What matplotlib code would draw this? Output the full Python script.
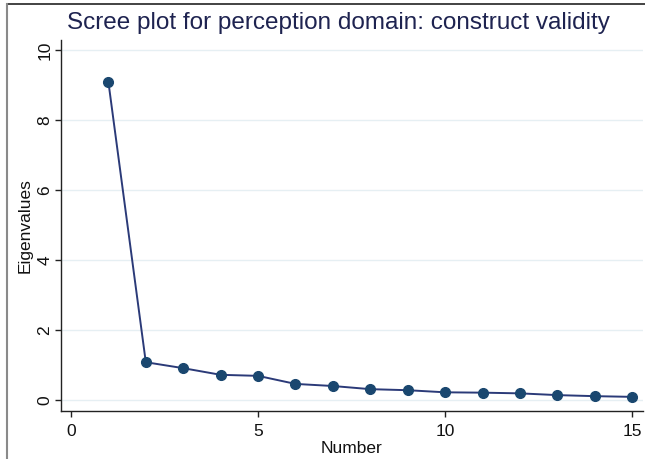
import matplotlib
matplotlib.use("Agg")
import matplotlib.pyplot as plt
from matplotlib.lines import Line2D

components = list(range(1, 16))
eigenvalues = [9.09, 1.08, 0.91, 0.72, 0.69, 0.46, 0.40, 0.31, 0.28, 0.22, 0.21, 0.19, 0.14, 0.11, 0.09]
x_ticks = [0, 5, 10, 15]
y_ticks = [0, 2, 4, 6, 8, 10]

plt.rcParams['font.family'] = ['Liberation Sans', 'DejaVu Sans']

fig = plt.figure(figsize=(6.45, 4.59), dpi=100)
fig.patch.set_facecolor('white')
ax = fig.add_axes([60.5/645, 1-411/459, (643-60.5)/645, (411-40)/459])

ax.plot(components, eigenvalues, color='#2b3a78', lw=1.4, zorder=3)
ax.plot(components, eigenvalues, 'o', color='#1a476f', ms=7, zorder=4)

ax.set_xlim(-0.28, 15.29)
ax.set_ylim(-0.314, 10.286)
ax.set_xticks(x_ticks)
ax.set_yticks(y_ticks)
ax.set_yticklabels([str(v) for v in y_ticks], rotation=90, va='center')
ax.tick_params(axis='both', labelsize=12.5, length=4, width=1, color='#222222', labelcolor='#111111')
ax.tick_params(axis='y', pad=2)
ax.tick_params(axis='x', pad=5)

ax.grid(axis='y', color='#e6eff3', lw=1)
ax.grid(axis='x', visible=False)
ax.set_axisbelow(True)

for s in ['top', 'right']:
    ax.spines[s].set_visible(False)
for s in ['left', 'bottom']:
    ax.spines[s].set_color('#222222')
    ax.spines[s].set_linewidth(1)

ax.set_xlabel('Number', fontsize=12.5, color='#111111', labelpad=2)
ax.set_ylabel('Eigenvalues', fontsize=12.5, color='#111111', labelpad=3)

fig.text(0.524, 1-29/459, 'Scree plot for perception domain: construct validity',
         ha='center', va='baseline', fontsize=17.5, color='#1e2350')

fig.add_artist(Line2D([7/645, 1], [1-3.5/459, 1-3.5/459], color='#222222', lw=1.2, transform=fig.transFigure))
fig.add_artist(Line2D([7/645, 7/645], [0, 1-3.5/459], color='#8a8a8a', lw=1.5, transform=fig.transFigure))

fig.savefig('out.png', dpi=100, facecolor='white')
